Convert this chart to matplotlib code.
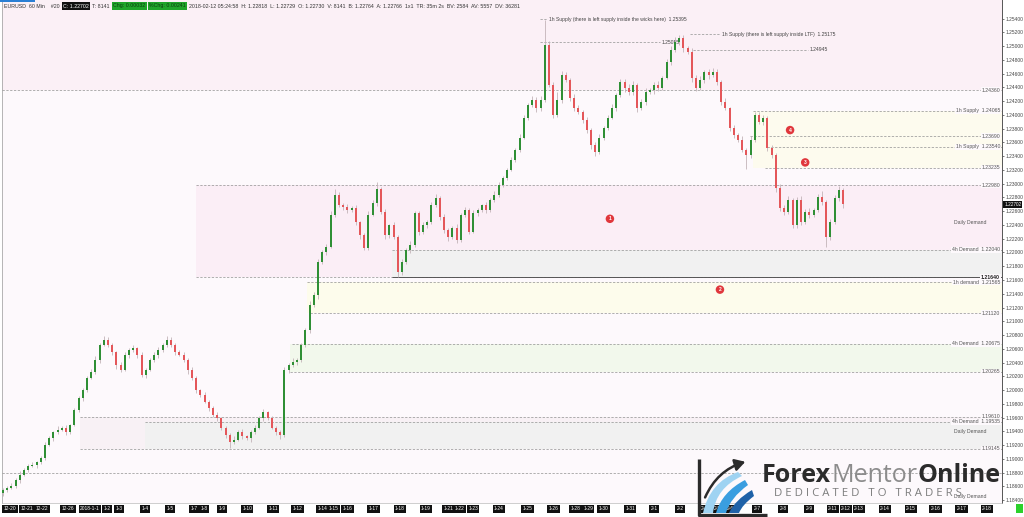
import matplotlib.pyplot as plt
import matplotlib.transforms as mtransforms
from matplotlib.path import Path
from matplotlib.patches import PathPatch, Rectangle
import numpy as np

# EURUSD candles (one candle ~ 4h), closes
first_open = 1.1850
closes = [
    1.1855, 1.1858, 1.1861, 1.1869, 1.1877, 1.1884, 1.1890, 1.1891, 1.1895, 1.1901,
    1.1920, 1.1930, 1.1939, 1.1942, 1.1945, 1.1939, 1.1949, 1.1971, 1.1988, 1.2000,
    1.2018, 1.2026, 1.2044, 1.2066, 1.2073, 1.2066, 1.2055, 1.2036, 1.2029, 1.2051,
    1.2058, 1.2061, 1.2051, 1.2022, 1.2029, 1.2044, 1.2051, 1.2058, 1.2066, 1.2073,
    1.2066, 1.2055, 1.2051, 1.2044, 1.2029, 1.2018, 1.2000, 1.1993, 1.1983, 1.1974,
    1.1964, 1.1959, 1.1945, 1.1935, 1.1924, 1.1928, 1.1939, 1.1933, 1.1930, 1.1939,
    1.1945, 1.1959, 1.1968, 1.1959, 1.1945, 1.1939, 1.1935, 1.2029, 1.2036, 1.2041,
    1.2044, 1.2065, 1.2087, 1.2124, 1.2138, 1.2186, 1.2201, 1.2208, 1.2255, 1.2284,
    1.2269, 1.2266, 1.2262, 1.2265, 1.2244, 1.2225, 1.2207, 1.2255, 1.2272, 1.2292,
    1.2259, 1.2225, 1.2240, 1.2223, 1.2172, 1.2186, 1.2204, 1.2211, 1.2257, 1.2230,
    1.2240, 1.2244, 1.2269, 1.2279, 1.2252, 1.2233, 1.2223, 1.2236, 1.2218, 1.2255,
    1.2262, 1.2230, 1.2257, 1.2262, 1.2269, 1.2262, 1.2276, 1.2284, 1.2298, 1.2308,
    1.2320, 1.2335, 1.2349, 1.2367, 1.2396, 1.2415, 1.2422, 1.2410, 1.2422, 1.2502,
    1.2444, 1.2400, 1.2422, 1.2458, 1.2451, 1.2425, 1.2410, 1.2404, 1.2393, 1.2378,
    1.2356, 1.2346, 1.2367, 1.2381, 1.2396, 1.2410, 1.2429, 1.2448, 1.2439, 1.2433,
    1.2444, 1.2410, 1.2419, 1.2433, 1.2436, 1.2444, 1.2439, 1.2454, 1.2477, 1.2494,
    1.2506, 1.2512, 1.2497, 1.2492, 1.2454, 1.2439, 1.2451, 1.2463, 1.2458, 1.2463,
    1.2448, 1.2419, 1.2410, 1.2381, 1.2371, 1.2364, 1.2349, 1.2342, 1.2364, 1.2400,
    1.2390, 1.2396, 1.2352, 1.2342, 1.2294, 1.2265, 1.2259, 1.2276, 1.2240, 1.2276,
    1.2244, 1.2259, 1.2255, 1.2262, 1.2281, 1.2273, 1.2223, 1.2244, 1.2279, 1.2291,
    1.2270,
]
# wick lengths in pips above / below the body
wick_up = [
    3, 2, 4, 3, 5, 2, 3, 4, 2, 3,   4, 3, 2, 5, 3, 4, 2, 3, 4, 3,
    3, 4, 5, 3, 6, 4, 3, 2, 5, 4,   3, 5, 2, 4, 3, 3, 5, 4, 3, 6,
    4, 2, 3, 5, 2, 4, 3, 2, 4, 3,   3, 4, 2, 3, 2, 5, 3, 4, 2, 3,
    4, 3, 5, 2, 3, 2, 3, 4, 3, 5,   3, 4, 3, 6, 4, 5, 3, 4, 5, 8,
    4, 3, 5, 3, 4, 2, 3, 5, 4, 11,  3, 4, 2, 5, 3, 4, 3, 5, 4, 3,
    4, 3, 5, 6, 3, 4, 2, 3, 5, 3,   4, 3, 5, 3, 2, 4, 3, 5, 4, 3,
    3, 4, 3, 5, 4, 3, 6, 4, 5, 36,  5, 4, 12, 6, 4, 3, 5, 4, 3, 4,
    3, 4, 5, 3, 4, 6, 3, 5, 4, 6,   5, 3, 4, 6, 3, 4, 5, 3, 4, 6,
    8, 5, 4, 3, 5, 4, 6, 3, 4, 5,   4, 3, 5, 2, 4, 3, 5, 3, 6, 4,
    5, 4, 3, 4, 3, 5, 4, 6, 3, 4,   6, 4, 5, 3, 4, 9, 3, 4, 5, 6,
    3,
]
wick_dn = [
    4, 3, 2, 3, 4, 2, 3, 2, 4, 3,   3, 2, 4, 3, 2, 4, 3, 2, 3, 4,
    3, 2, 3, 4, 2, 3, 4, 5, 3, 2,   4, 3, 5, 3, 4, 2, 3, 4, 2, 3,
    3, 4, 2, 3, 5, 3, 4, 3, 2, 4,   3, 4, 3, 5, 8, 3, 2, 4, 3, 5,
    3, 2, 4, 3, 2, 4, 6, 3, 4, 2,   4, 3, 2, 4, 3, 5, 3, 4, 2, 3,
    3, 4, 5, 3, 4, 6, 4, 3, 2, 4,   3, 5, 4, 3, 8, 4, 3, 5, 3, 4,
    3, 4, 2, 3, 5, 4, 6, 3, 4, 3,   4, 3, 2, 4, 3, 5, 3, 2, 4, 3,
    3, 2, 4, 3, 2, 4, 3, 5, 4, 3,   4, 5, 3, 4, 3, 5, 4, 3, 5, 4,
    5, 6, 3, 4, 3, 2, 4, 3, 5, 4,   4, 5, 3, 4, 3, 5, 4, 3, 2, 4,
    3, 4, 5, 3, 6, 4, 3, 4, 5, 3,   4, 5, 3, 4, 5, 4, 3, 20, 4, 3,
    3, 4, 5, 4, 6, 5, 4, 3, 5, 4,   4, 3, 5, 4, 3, 4, 15, 5, 3, 4,
    5,
]

# horizontal levels: price, candle where the line starts, right-hand label
level_prices = [1.24360, 1.24065, 1.23690, 1.23540, 1.23235, 1.22980, 1.22040, 1.21640,
                1.21565, 1.21120, 1.20675, 1.20265, 1.19610, 1.19535, 1.19145, 1.18790]
level_start = [-0.25, 178.6, 177.9, 182.0, 181.4, 46.0, 92.6, 46.0,
               72.4, 73.0, 68.8, 68.3, 18.3, 33.8, 18.3, -0.25]
level_labels = ['1.24360', '1h Supply  1.24065', '1.23690', '1h Supply  1.23540', '1.23235',
                '1.22980', '4h Demand  1.22040', '1.21640', '1h demand  1.21565', '1.21120',
                '4h Demand  1.20675', '1.20265', '1.19610', '4h Demand  1.19535', '1.19145', '']

# shaded zones
zone_lo = [1.24360, 1.23235, 1.21640, 1.21640, 1.21120, 1.20265, 1.19145, 1.19145]
zone_hi = [1.26000, 1.24065, 1.22980, 1.22040, 1.21565, 1.20675, 1.19610, 1.19535]
zone_start = [-0.25, 178.6, 46.0, 92.6, 72.4, 68.3, 18.3, 33.8]
zone_col = ['#fbf0f6', '#fdfbee', '#fbeef6', '#f1f1f1', '#fdfcec', '#f2f8ec', '#f8f1f5', '#f1f1f1']

# supply notes at the top
top_prices = [1.25395, 1.25055, 1.25175, 1.24945]
top_start = [127.9, 127.9, 163.6, 164.3]
top_end = [129.5, 156.4, 170.7, 191.7]
top_labels = ['1h Supply (there is left supply inside the wicks here)  1.25395', '1.25055',
              '1h Supply (there is left supply inside LTF)  1.25175', '1.24945']

# red numbered markers
mark_txt = ['1', '2', '3', '4']
mark_x = [144.5, 170.7, 191.0, 187.4]
mark_y = [1.2249, 1.2146, 1.2331, 1.2378]

xtick_labels = ['12-20', '12-21', '12-22', '12-26', '2018-1-1', '1-2', '1-3', '1-4', '1-5', '1-7',
                '1-8', '1-9', '1-10', '1-11', '1-12', '1-14', '1-15', '1-16', '1-17', '1-18',
                '1-19', '1-21', '1-22', '1-23', '1-24', '1-25', '1-26', '1-28', '1-29', '1-30',
                '1-31', '2-1', '2-2', '2-4', '2-5', '2-6', '2-7', '2-8', '2-9', '2-11',
                '2-12', '2-13', '2-14', '2-15', '2-16', '2-17', '2-18']
xtick_pos = [1.7, 5.7, 9.3, 15.5, 20.7, 24.8, 27.6, 33.8, 39.8, 45.5,
             47.9, 52.1, 58.1, 64.3, 70.2, 76.0, 78.6, 82.1, 88.3, 94.5,
             100.7, 106.0, 108.6, 111.9, 118.1, 124.8, 131.0, 136.4, 139.3, 142.9,
             149.3, 155.0, 161.2, 167.1, 170.0, 173.1, 179.5, 185.7, 191.9, 197.6,
             200.7, 203.8, 210.0, 216.2, 222.1, 228.3, 234.3]

last_price = 1.22702

plt.rcParams['font.family'] = ['Liberation Sans', 'DejaVu Sans']

fig = plt.figure(figsize=(10.24, 5.17), dpi=100)
fig.patch.set_facecolor('white')
ax = fig.add_axes([2 / 1024, 14 / 517, 1000 / 1024, 503 / 517])
ax.set_facecolor('#fdf9fc')
xmin, xmax = -0.25, 237.86
ax.set_xlim(xmin, xmax)
ax.set_ylim(1.18357, 1.25672)

for lo, hi, st, col in zip(zone_lo, zone_hi, zone_start, zone_col):
    ax.fill_between([st, xmax], lo, hi, color=col, lw=0, zorder=0)

blend = mtransforms.blended_transform_factory(ax.transAxes, ax.transData)
for p, st, lab in zip(level_prices, level_start, level_labels):
    ax.hlines(p, st, xmax, colors='#9a9a9a', lw=0.55, linestyles=(0, (3, 2)), zorder=1)
    if lab:
        bold = lab == '1.21640'
        ax.text(0.998, p, lab, transform=blend, ha='right', va='center', fontsize=3.7,
                color='#222' if bold else '#555', fontweight='bold' if bold else 'normal',
                bbox=dict(fc='#fdf9fc', ec='none', pad=0.4), zorder=3)
ax.hlines(1.21640, 92.6, xmax, colors='#555555', lw=0.7, zorder=1)
ax.text(0.985, 1.2244, 'Daily Demand', transform=blend, ha='right', va='center',
        fontsize=3.7, color='#555')
ax.text(0.985, 1.1940, 'Daily Demand', transform=blend, ha='right', va='center',
        fontsize=3.7, color='#555')
ax.text(0.985, 1.1845, 'Daily Demand', transform=blend, ha='right', va='center',
        fontsize=3.7, color='#555', zorder=6)

for p, a, b, lab in zip(top_prices, top_start, top_end, top_labels):
    ax.hlines(p, a, b, colors='#9a9a9a', lw=0.55, linestyles=(0, (3, 2)), zorder=1)
    ax.text(b + 0.4, p, lab, ha='left', va='center', fontsize=3.6, color='#444', zorder=3)

# candles
c = np.array(closes)
o = np.r_[first_open, c[:-1]]
hi = np.maximum(o, c) + np.array(wick_up) * 1e-4
lo = np.minimum(o, c) - np.array(wick_dn) * 1e-4
x = np.arange(len(c))
ax.vlines(x, lo, hi, color='#c3b4b8', lw=0.6, zorder=4)
cols = np.where(c >= o, '#2f8f35', '#e4575a')
ax.bar(x, np.maximum(np.abs(c - o), 0.00005), bottom=np.minimum(o, c), width=0.5,
       color=cols, lw=0, zorder=5)

for t, mx, my in zip(mark_txt, mark_x, mark_y):
    ax.text(mx, my, t, ha='center', va='center', fontsize=3.6, color='white',
            fontweight='bold', zorder=6,
            bbox=dict(boxstyle='circle,pad=0.35', fc='#e0373c', ec='none'))

# right price axis
ax.yaxis.tick_right()
ax.set_yticks(np.arange(1.184, 1.2541, 0.002))
ax.yaxis.set_major_formatter(plt.FormatStrFormatter('%.5f'))
ax.tick_params(axis='y', labelsize=3.5, length=1.5, width=0.5, colors='#444', pad=1.2)
ax.annotate(f'{last_price:.5f}', xy=(1, last_price), xycoords=blend, xytext=(1.6, 0),
            textcoords='offset points', ha='left', va='center', fontsize=3.4, color='white',
            bbox=dict(boxstyle='square,pad=0.2', fc='#111', ec='none'), zorder=7,
            annotation_clip=False)

ax.set_xticks(xtick_pos)
ax.set_xticklabels(xtick_labels)
ax.tick_params(axis='x', labelsize=3.5, length=0, pad=2.2, colors='white')
for lbl in ax.get_xticklabels():
    lbl.set_bbox(dict(boxstyle='square,pad=0.3', fc='#111', ec='none'))

ax.spines['top'].set_visible(False)
ax.spines['right'].set_color('#555')
ax.spines['right'].set_linewidth(0.7)
ax.spines['left'].set_color('#999')
ax.spines['left'].set_linewidth(0.5)
ax.spines['bottom'].set_color('#bbb')
ax.spines['bottom'].set_linewidth(0.5)

# overlay in pixel space for header and logo
ov = fig.add_axes([0, 0, 1, 1], zorder=10)
ov.set_xlim(0, 1024)
ov.set_ylim(517, 0)
ov.axis('off')
ov.patch.set_alpha(0)

ov.add_patch(Rectangle((0, 0), 35, 2.2, fc='#2a7fd4', ec='none'))
hdr = [('EURUSD  60 Min    #20', None, '#333'),
       ('C: 1.22702', '#111', 'white'),
       ('T: 8141', None, '#333'),
       ('Chg: 0.00032', '#1fa52a', '#0d3d10'),
       ('%Chg: 0.00241', '#1fa52a', '#0d3d10'),
       ('2018-02-12 05:24:58  H: 1.22818  L: 1.22729  O: 1.22730  V: 8141  B: 1.22764  '
        'A: 1.22766  1x1  TR: 35m 2s  BV: 2584  AV: 5557  DV: 36281', None, '#333')]
prev = ov.text(4, 6, hdr[0][0], fontsize=3.8, color=hdr[0][2], va='center', ha='left')
for s, bg, fg in hdr[1:]:
    kw = {}
    if bg:
        kw['bbox'] = dict(boxstyle='square,pad=0.25', fc=bg, ec='none')
    prev = ov.annotate(s, xy=(1, 0.5), xycoords=prev, xytext=(2.5, 0),
                       textcoords='offset points', fontsize=3.8, color=fg,
                       va='center', ha='left', **kw)

# logo
ov.plot([699, 699, 767], [459, 514.5, 514.5], color='#2b2b2b', lw=2.4,
        solid_capstyle='butt')


def band(p0, c0, p1, q1, c1, q0, col):
    verts = [p0, c0, p1, q1, c1, q0, p0]
    codes = [Path.MOVETO, Path.CURVE3, Path.CURVE3, Path.LINETO, Path.CURVE3, Path.CURVE3,
             Path.CLOSEPOLY]
    ov.add_patch(PathPatch(Path(verts, codes), fc=col, ec='none'))


band((703, 513), (710, 482), (738, 472), (742, 476), (716, 488), (713, 513), '#9fd3f2')
band((716, 513), (722, 492), (745, 480), (748, 485), (730, 498), (726, 513), '#3a9ee0')
band((729, 513), (735, 500), (752, 490), (754, 496), (742, 505), (739, 513), '#1f62a8')
ov.annotate('', xy=(748, 461), xytext=(704, 500),
            arrowprops=dict(arrowstyle='-|>,head_length=0.6,head_width=0.35',
                            color='#2b2b2b', lw=1.8,
                            connectionstyle='arc3,rad=-0.25'))

t = ov.text(762, 488, 'Forex', fontsize=18, color='#2b2b2b', family='Open Sans',
            fontweight='bold', va='bottom', ha='left')
t = ov.annotate('Mentor', xy=(1, 0), xycoords=t, fontsize=18, color='#8c8c8c',
                family='Open Sans', va='bottom', ha='left')
ov.annotate('Online', xy=(1, 0), xycoords=t, fontsize=18, color='#2b2b2b',
            family='Open Sans', fontweight='bold', va='bottom', ha='left')
ov.text(774, 494, 'D E D I C A T E D   T O   T R A D E R S', fontsize=8.2,
        color='#7d7d7d', family='Open Sans', va='center', ha='left')

ov.add_patch(Rectangle((1016, 504), 7, 9, fc='#2bd12b', ec='none'))

fig.savefig('out.png', dpi=100)
